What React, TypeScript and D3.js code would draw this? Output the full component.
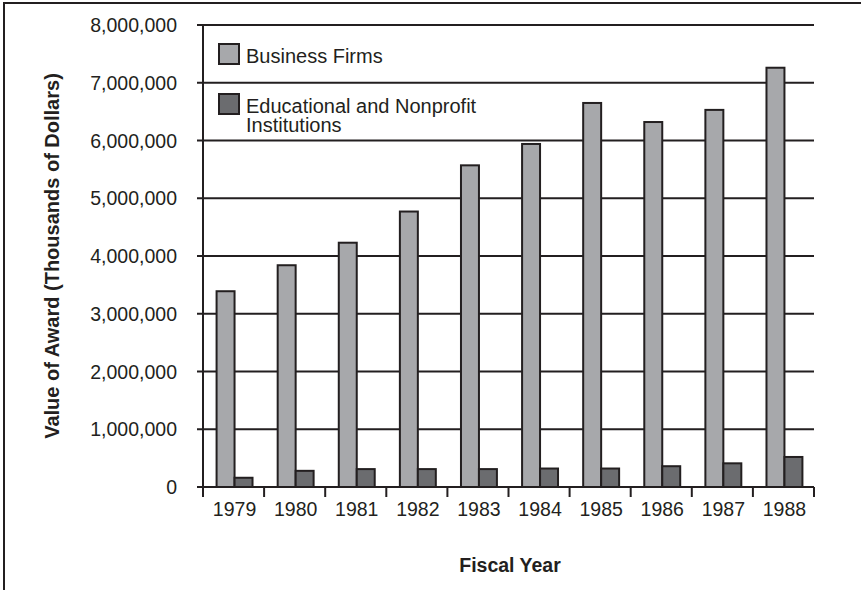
import React, { useRef, useEffect } from "react";
import * as d3 from "d3";

const width = 861;
const height = 590;
const margin = { top: 25, right: 47, bottom: 103, left: 203 };

const years = ["1979", "1980", "1981", "1982", "1983", "1984", "1985", "1986", "1987", "1988"];
const businessFirms = [3390000, 3840000, 4230000, 4770000, 5570000, 5940000, 6650000, 6320000, 6530000, 7260000];
const educational = [160000, 280000, 310000, 310000, 310000, 320000, 320000, 360000, 410000, 520000];
const seriesNames = ["Business Firms", "Educational and Nonprofit Institutions"];
const seriesColors = ["#a7a8ab", "#6b6c6f"];
const yTicks = [0, 1000000, 2000000, 3000000, 4000000, 5000000, 6000000, 7000000, 8000000];

const ink = "#231f20";
const font = "'Liberation Sans', Arial, sans-serif";

function draw(el: SVGSVGElement) {
    const svg = d3.select(el);
    svg.selectAll("*").remove();

    const x0 = d3
        .scaleBand<string>()
        .domain(years)
        .range([margin.left, width - margin.right])
        .padding(0);
    const x1 = d3
        .scaleBand<string>()
        .domain(seriesNames)
        .range([0, x0.bandwidth()])
        .paddingInner(0)
        .paddingOuter(0.7);
    const y = d3
        .scaleLinear()
        .domain([0, 8000000])
        .range([height - margin.bottom, margin.top]);

    // frame (top and left only)
    svg.append("path")
        .attr("d", `M4,${height} V3 H${width}`)
        .attr("fill", "none")
        .attr("stroke", ink)
        .attr("stroke-width", 2);

    // gridlines + y ticks
    const gGrid = svg.append("g").attr("stroke", ink).attr("stroke-width", 2);
    gGrid.selectAll("line")
        .data(yTicks)
        .join("line")
        .attr("x1", margin.left - 6)
        .attr("x2", width - margin.right)
        .attr("y1", (d) => y(d))
        .attr("y2", (d) => y(d));

    svg.append("g")
        .attr("font-family", font)
        .attr("font-size", 19.5)
        .attr("fill", ink)
        .attr("text-anchor", "end")
        .selectAll("text")
        .data(yTicks)
        .join("text")
        .attr("x", 177)
        .attr("y", (d) => y(d))
        .attr("dy", "0.36em")
        .text((d) => d3.format(",")(d));

    // bars
    const rows = years.map((yr, i) => ({ year: yr, values: [businessFirms[i], educational[i]] }));
    const groups = svg
        .append("g")
        .selectAll("g")
        .data(rows)
        .join("g")
        .attr("transform", (d) => `translate(${x0(d.year)},0)`);
    groups
        .selectAll("rect")
        .data((d) => d.values.map((v, k) => ({ key: seriesNames[k], value: v, k })))
        .join("rect")
        .attr("x", (d) => (x1(d.key) as number) + 1)
        .attr("width", x1.bandwidth())
        .attr("y", (d) => y(d.value))
        .attr("height", (d) => y(0) - y(d.value))
        .attr("fill", (d) => seriesColors[d.k])
        .attr("stroke", ink)
        .attr("stroke-width", 2);

    // axes lines
    const axisG = svg.append("g").attr("stroke", ink).attr("stroke-width", 2);
    axisG.append("line")
        .attr("x1", margin.left)
        .attr("x2", margin.left)
        .attr("y1", margin.top)
        .attr("y2", y(0) + 10);
    axisG.append("line")
        .attr("x1", margin.left - 6)
        .attr("x2", width - margin.right)
        .attr("y1", y(0))
        .attr("y2", y(0));
    const boundaries = years.map((d) => x0(d) as number).concat([width - margin.right]);
    axisG.selectAll("line.xt")
        .data(boundaries)
        .join("line")
        .attr("class", "xt")
        .attr("x1", (d) => d)
        .attr("x2", (d) => d)
        .attr("y1", y(0))
        .attr("y2", y(0) + 10);

    svg.append("g")
        .attr("font-family", font)
        .attr("font-size", 19.5)
        .attr("fill", ink)
        .attr("text-anchor", "middle")
        .selectAll("text")
        .data(years)
        .join("text")
        .attr("x", (d) => (x0(d) as number) + x0.bandwidth() / 2 + 1)
        .attr("y", 516)
        .text((d) => d);

    // axis titles
    svg.append("text")
        .attr("x", 510)
        .attr("y", 572)
        .attr("text-anchor", "middle")
        .attr("font-family", font)
        .attr("font-weight", "bold")
        .attr("font-size", 19.5)
        .attr("fill", ink)
        .text("Fiscal Year");

    svg.append("text")
        .attr("transform", `translate(59,256) rotate(-90)`)
        .attr("text-anchor", "middle")
        .attr("font-family", font)
        .attr("font-weight", "bold")
        .attr("font-size", 20)
        .attr("fill", ink)
        .text("Value of Award (Thousands of Dollars)");

    // legend
    const legend = svg.append("g").attr("transform", "translate(218,43)");
    const legendLines = [["Business Firms"], ["Educational and Nonprofit", "Institutions"]];
    legendLines.forEach((lines, i) => {
        const g = legend.append("g").attr("transform", `translate(0,${i * 50})`);
        g.append("rect")
            .attr("x", 1)
            .attr("y", 1)
            .attr("width", 20)
            .attr("height", 20)
            .attr("fill", seriesColors[i])
            .attr("stroke", ink)
            .attr("stroke-width", 2);
        g.append("text")
            .attr("x", 28)
            .attr("y", 20)
            .attr("font-family", font)
            .attr("font-size", 20)
            .attr("fill", ink)
            .selectAll("tspan")
            .data(lines)
            .join("tspan")
            .attr("x", 28)
            .attr("dy", (_d, j) => (j === 0 ? 0 : 19))
            .text((d) => d);
    });
}

export default function App() {
    const ref = useRef<SVGSVGElement>(null);
    useEffect(() => {
        if (ref.current) draw(ref.current);
    }, []);
    return (
        <svg
            ref={ref}
            width={width}
            height={height}
            style={{ position: "absolute", left: 0, top: 0, background: "#fff" }}
        />
    );
}
